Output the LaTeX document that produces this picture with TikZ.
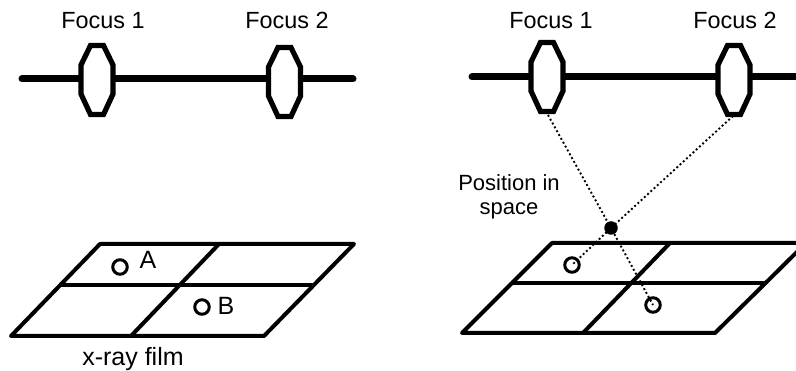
\documentclass[tikz,border=0pt]{standalone}
\usepackage{fontspec}
\setmainfont{Liberation Sans}
\begin{document}
\begin{tikzpicture}[x=1pt,y=-1pt,
  beam/.style={line width=7pt,line cap=round},
  lens/.style={line width=5.2pt,fill=white,line join=miter},
  film/.style={line width=4pt,line join=round,line cap=round},
  spot/.style={circle,draw,line width=3pt,minimum size=14.5pt,inner sep=0pt},
  ray/.style={line width=1.9pt,dash pattern=on 1.9pt off 2.5pt},
  lbl/.style={font=\fontsize{23.4}{25}\selectfont,inner sep=0pt}]
  \useasboundingbox (0,0) rectangle (796,371);
  \clip (0,0) rectangle (796,371);
  % optical benches
  \draw[beam] (22,79) -- (353,79);
  \draw[beam] (472,77) -- (810,77);
  % lenses
  \foreach \x/\y in {97/80, 284.5/82, 547/77, 734/80}
    \draw[lens] (\x-6.5,\y-34.5) -- (\x+6.5,\y-34.5) -- (\x+16,\y-15) -- (\x+16,\y+14)
      -- (\x+6.5,\y+34.5) -- (\x-6.5,\y+34.5) -- (\x-16,\y+14) -- (\x-16,\y-15) -- cycle;
  % labels
  \foreach \x/\n in {103/1, 287/2, 551/1, 735/2}
    \node[lbl,anchor=base] at (\x,28.5) {Focus \n};
  % film, left
  \draw[film] (100,244) -- (354,244) -- (264,336) -- (11,336) -- cycle;
  \draw[film] (62,285) -- (312,285);
  \draw[film] (219,244) -- (131,336);
  \node[spot] (spotA) at (120,267) {};
  \node[spot] (spotB) at (202,307) {};
  \node[lbl,font=\fontsize{25}{27}\selectfont] (labelA) at (148,260) {A};
  \node[lbl,font=\fontsize{25}{27}\selectfont] (labelB) at (226,306) {B};
  \node[lbl,font=\fontsize{25}{27}\selectfont] (filmtext) at (133,359.5) {x-ray film};
  % film, right
  \draw[film] (552,243) -- (806,243) -- (715,333) -- (462,333) -- cycle;
  \draw[film] (513,283) -- (763,283);
  \draw[film] (670,243) -- (583,333);
  \node[spot] (spotC) at (572,265) {};
  \node[spot] (spotD) at (653,305) {};
  % rays through the point in space
  \node[circle,fill=black,minimum size=13.5pt,inner sep=0pt] (point) at (611,228) {};
  \coordinate (focusC) at (548,115);
  \coordinate (focusD) at (733,116);
  \draw[ray] (focusC) -- (point.center) -- (spotD.center);
  \draw[ray] (focusD) -- (point.center) -- (spotC.center);
  \node[lbl,align=center,font=\fontsize{22}{24.5}\selectfont] (position) at (509,197) {Position in\\space};
\end{tikzpicture}
\end{document}
